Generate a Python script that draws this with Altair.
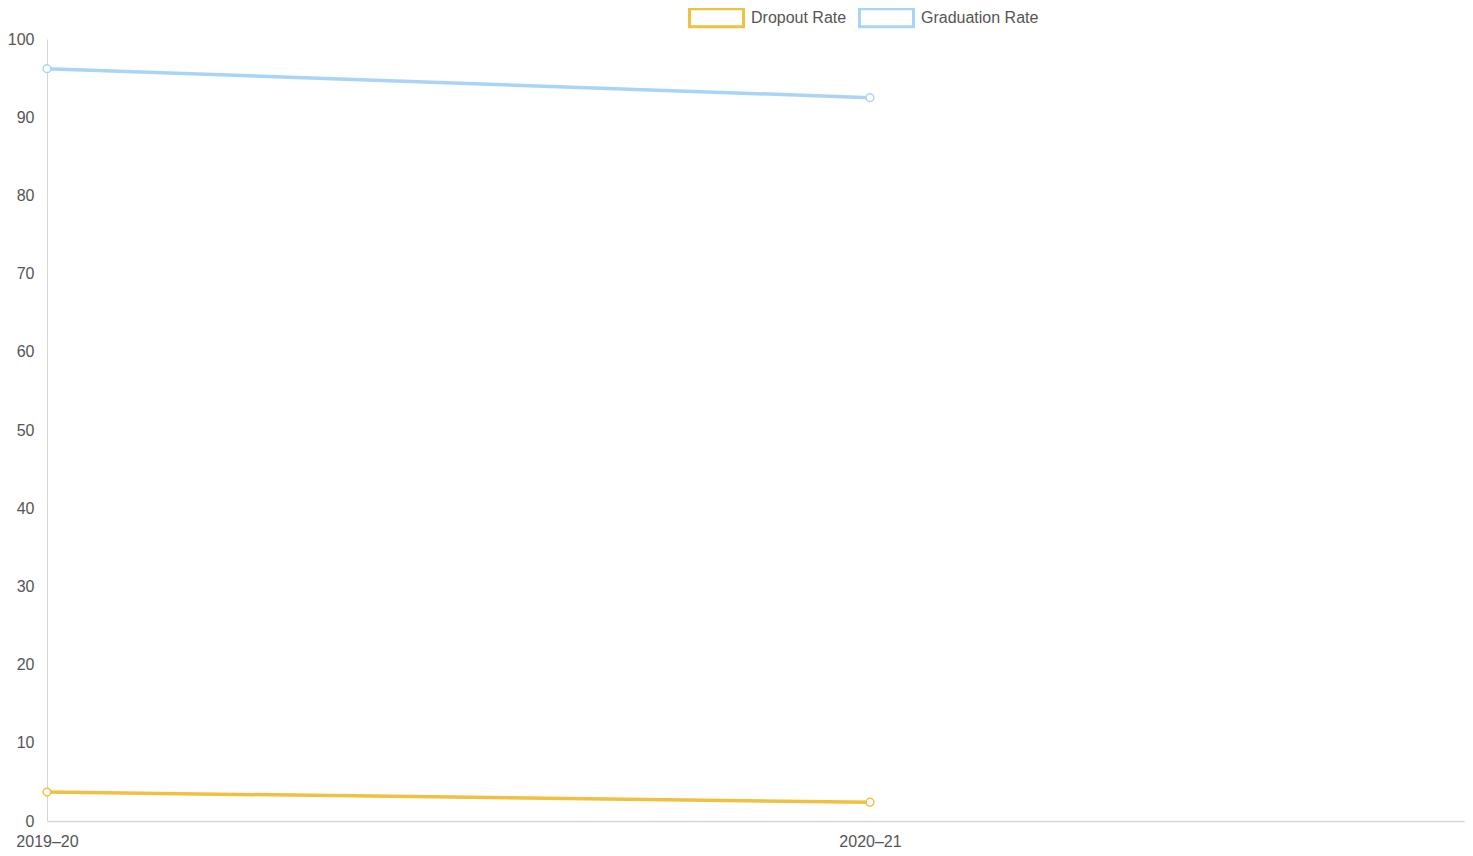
import altair as alt
import pandas as pd

years = ["2019–20", "2020–21"]
series_names = ["Dropout Rate", "Graduation Rate"]
dropout = [3.7, 2.4]
graduation = [96.2, 92.5]
colors = ["#f0c040", "#aad4f5"]

rows = []
for i, y in enumerate(years):
    rows.append({"idx": i, "year": y, "series": series_names[0], "value": dropout[i]})
    rows.append({"idx": i, "year": y, "series": series_names[1], "value": graduation[i]})
df = pd.DataFrame(rows)

label_expr = "datum.value == 0 ? '2019–20' : (datum.value == 1 ? '2020–21' : '')"

x = alt.X("idx:Q",
          scale=alt.Scale(domain=[0, 1.7218], nice=False, zero=False),
          axis=alt.Axis(values=[0, 1], labelExpr=label_expr, title=None, grid=False,
                        ticks=False, labelPadding=12, labelFontSize=16, labelColor="#555",
                        domainColor="#d6d6d6", domainWidth=1.5, labelFlush=False,
                        labelOverlap=False))
y = alt.Y("value:Q",
          scale=alt.Scale(domain=[0, 100], nice=False),
          axis=alt.Axis(values=list(range(0, 101, 10)), title=None, grid=False, ticks=False,
                        labelPadding=13, labelFontSize=16, labelColor="#555",
                        domainColor="#d6d6d6", domainWidth=1))
color = alt.Color("series:N",
                  scale=alt.Scale(domain=series_names, range=colors),
                  legend=alt.Legend(title=None, orient="none", direction="horizontal",
                                    legendX=641, legendY=-50,
                                    symbolType="M-1,-0.333L1,-0.333L1,0.333L-1,0.333Z",
                                    symbolSize=2916, symbolStrokeWidth=3,
                                    symbolFillColor="white", labelFontSize=16,
                                    labelColor="#555", labelOffset=6, columnPadding=6,
                                    padding=0))

base = alt.Chart(df).encode(x=x, y=y, color=color, detail="series:N")
lines = base.mark_line(strokeWidth=3.5)
points = base.mark_point(filled=False, fill="white", size=60, strokeWidth=1.5, opacity=1)

chart = (lines + points).properties(
    width=1417, height=782,
    autosize=alt.AutoSizeParams(type="none"),
    padding={"left": 39, "top": 31, "right": 1, "bottom": 27},
).configure(font="Liberation Sans").configure_view(stroke=None, strokeWidth=0)

chart.save("out.html", embed_options={"renderer": "svg", "actions": False})
